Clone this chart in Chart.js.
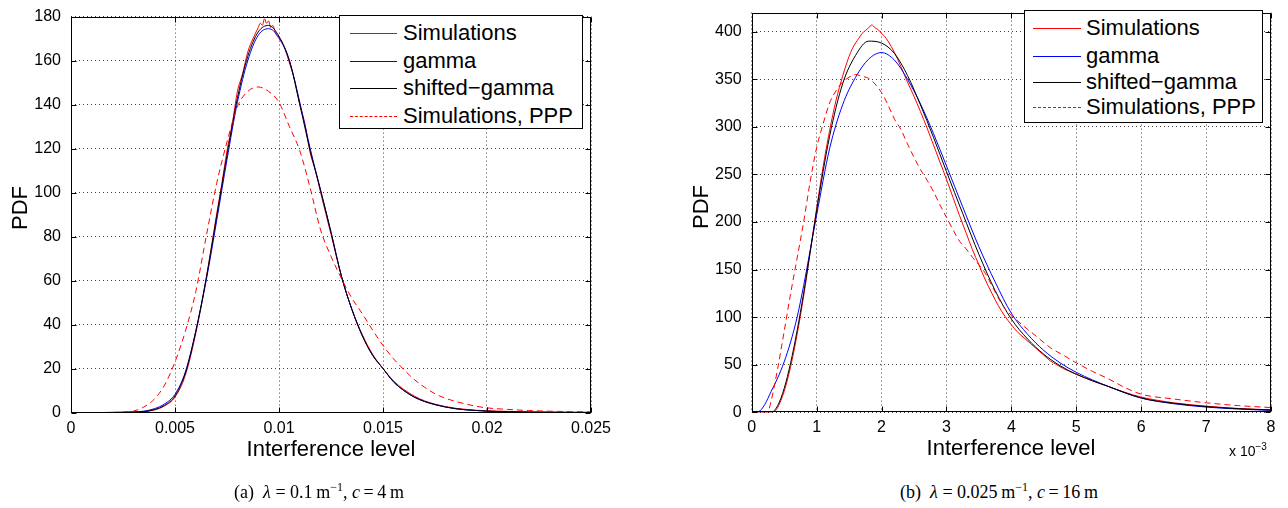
<!DOCTYPE html>
<html>
<head>
<meta charset="utf-8">
<script src="https://cdn.jsdelivr.net/npm/chart.js@4.4.1/dist/chart.umd.min.js"></script>
<style>
  html, body { margin: 0; padding: 0; background: #fff; }
  body { width: 1288px; height: 508px; position: relative; overflow: hidden;
         font-family: "Liberation Sans", Arial, sans-serif; color: #000; }
  .cv { position: absolute; }
  .ylab { position: absolute; font-size: 22px; white-space: nowrap;
          transform: translate(-50%, -50%) rotate(-90deg); }
  .xlab { position: absolute; font-size: 22px; white-space: nowrap; transform: translate(-50%, -50%); }
  .cap { position: absolute; font-family: "Liberation Serif", "Times New Roman", serif; font-size: 18px;
         white-space: nowrap; transform: translate(-50%, -50%); }
  .cap i { font-style: italic; }
  .cap sup { font-size: 12px; vertical-align: 7px; line-height: 0; }
  .exp { position: absolute; font-size: 14px; white-space: nowrap; }
  .exp sup { font-size: 10px; vertical-align: 6px; line-height: 0; }
  .legend { position: absolute; border: 1px solid #000; background: #fff; box-sizing: border-box; }
  .legend .row { position: absolute; height: 24px; line-height: 24px; font-size: 22px; white-space: nowrap; }
  .legend .smp { position: absolute; height: 0; }
</style>
</head>
<body>

<div class="cv" style="left:0; top:-3px;"><canvas id="chartA" width="620" height="443"></canvas></div>
<div class="cv" style="left:680px; top:-7px;"><canvas id="chartB" width="608" height="447"></canvas></div>

<div class="ylab" style="left:20px; top:208px;">PDF</div>
<div class="xlab" style="left:331px; top:449px;">Interference level</div>
<div class="cap" style="left:319px; top:492px;">(a)&nbsp; <i>λ</i> = 0.1&thinsp;m<sup>−1</sup>, <i>c</i>&thinsp;=&thinsp;4&thinsp;m</div>

<div class="ylab" style="left:701px; top:207px;">PDF</div>
<div class="xlab" style="left:1011px; top:448px;">Interference level</div>
<div class="exp" style="left:1229px; top:443px;">x 10<sup>−3</sup></div>
<div class="cap" style="left:999px; top:492px;">(b)&nbsp; <i>λ</i> = 0.025&thinsp;m<sup>−1</sup>, <i>c</i>&thinsp;=&thinsp;16&thinsp;m</div>

<div id="legendA" class="legend" style="left:339px; top:15px; width:244px; height:114px;"></div>
<div id="legendB" class="legend" style="left:1024px; top:10px; width:239px; height:113px;"></div>

<script>
// ---- (a) lambda = 0.1, c = 4 ----
const aXTicks = ['0', '0.005', '0.01', '0.015', '0.02', '0.025'];
const aX = [0.002, 0.0025, 0.003, 0.0035, 0.004, 0.0045, 0.005, 0.0055, 0.006, 0.0065,
            0.007, 0.0075, 0.008, 0.0085, 0.009, 0.0095, 0.01, 0.0105, 0.011, 0.0115,
            0.012, 0.0125, 0.013, 0.0135, 0.014, 0.0145, 0.015, 0.0155, 0.016, 0.0165,
            0.017, 0.0175, 0.018, 0.0185, 0.019, 0.0195, 0.02, 0.021, 0.022, 0.023, 0.024, 0.025];
const aGamma = [0, 0.08, 0.25, 0.6, 1.7, 3.9, 8.3, 18.5, 37, 60,
                87, 115, 141, 160, 171.5, 174.5, 170.5, 160, 141, 120,
                101, 82, 62, 47, 35, 26, 20, 14, 10, 7,
                5, 3.6, 2.5, 1.7, 1.2, 0.9, 0.6, 0.3, 0.15, 0.08, 0.04, 0.02];
const aShifted = [0, 0.05, 0.15, 0.4, 1.3, 3.3, 7.5, 18, 37, 61,
                  89, 117, 143, 162, 173, 176, 171, 160, 140, 119,
                  101, 82, 62, 47, 35, 26, 20, 14, 10, 7,
                  5, 3.6, 2.5, 1.7, 1.2, 0.9, 0.6, 0.3, 0.15, 0.08, 0.04, 0.02];
const aPpp = [0, 0.2, 0.6, 2.5, 6, 12.5, 23, 37, 55, 80,
              104, 123, 139, 146, 148, 146, 141, 130, 119, 102,
              83, 71, 61, 52, 45, 37.5, 30.5, 24.5, 19.5, 15,
              11.5, 8.5, 6.5, 5, 3.8, 2.8, 2.1, 1.4, 0.9, 0.6, 0.4, 0.3];
const aSimX = [0.0015, 0.002, 0.0025, 0.003, 0.0035, 0.004, 0.0045, 0.005, 0.0055, 0.006,
               0.0065, 0.007, 0.00725, 0.0075, 0.00775, 0.008, 0.00825, 0.0085, 0.00875, 0.009,
               0.0091, 0.0092, 0.0093, 0.0094, 0.0095, 0.0096, 0.0097, 0.00985, 0.01, 0.01025,
               0.0105, 0.01075, 0.011, 0.01125, 0.0115, 0.01175, 0.012, 0.0125, 0.013, 0.0135,
               0.014, 0.0145, 0.015, 0.0155, 0.016, 0.0165, 0.017, 0.0175, 0.018, 0.0185,
               0.019, 0.0195, 0.02, 0.021, 0.022, 0.023, 0.024, 0.025];
const aSimY = [0, 0.1, 0.1, 0.2, 0.4, 1.1, 3, 7, 17, 36,
               61, 90, 104, 119, 131, 146, 154, 164, 170, 175,
               177, 176, 179, 177, 178, 175, 176, 172, 170, 166,
               159, 151, 140, 131, 118, 110, 100, 81, 62, 47,
               35.5, 26.5, 20, 14.5, 10.5, 7.5, 5.3, 3.8, 2.7, 1.9,
               1.4, 1.0, 0.8, 0.5, 0.3, 0.2, 0.1, 0.05];

// ---- (b) lambda = 0.025, c = 16  (x in units of 1e-3) ----
const bXTicks = ['0', '1', '2', '3', '4', '5', '6', '7', '8'];
const bX = [0, 0.1, 0.2, 0.3, 0.4, 0.5, 0.6, 0.7, 0.8, 0.9,
            1.0, 1.2, 1.4, 1.6, 1.8, 2.0, 2.2, 2.4, 2.6, 2.8,
            3.0, 3.25, 3.5, 3.75, 4.0, 4.25, 4.5, 4.75, 5.0, 5.5,
            6.0, 6.5, 7.0, 7.5, 8.0];
const bGamma = [0, 0.5, 8, 22, 36, 53, 74, 100, 133, 170,
                207, 277, 323, 352, 371, 378, 370, 350, 324, 293,
                259, 216, 174, 137, 104, 82, 65, 52, 42, 27,
                15, 9, 5.5, 3.4, 2];
const bShifted = [0, 0, 0, 0, 7, 25, 52, 86, 125, 168,
                  212, 290, 345, 375, 390, 388, 377, 354, 323, 289,
                  253, 209, 166, 128, 98, 77, 61, 49, 40, 27,
                  15, 9.5, 6, 3.8, 2.4];
const bSimX = [0, 0.2, 0.3, 0.35, 0.4, 0.5, 0.6, 0.7, 0.8, 0.9,
               1.0, 1.1, 1.2, 1.3, 1.4, 1.45, 1.5, 1.55, 1.6, 1.65,
               1.7, 1.75, 1.8, 1.85, 1.9, 1.95, 2.0, 2.05, 2.1, 2.2,
               2.3, 2.4, 2.5, 2.6, 2.7, 2.8, 2.9, 3.0, 3.1, 3.2,
               3.3, 3.4, 3.5, 3.6, 3.7, 3.8, 3.9, 4.0, 4.1, 4.2,
               4.3, 4.4, 4.5, 4.6, 4.7, 4.8, 5.0, 5.25, 5.5, 5.75,
               6.0, 6.5, 7.0, 7.5, 8.0];
const bSimY = [0, 0, 0, 1, 5, 22, 48, 82, 122, 168,
               214, 258, 296, 328, 353, 364, 374, 382, 388, 393,
               398, 401, 404, 407, 404, 402, 398, 395, 390, 378,
               363, 347, 332, 316, 299, 281, 263, 245, 226, 207,
               189, 171, 155, 139, 125, 112, 101, 92, 84, 78,
               72, 66, 60, 54, 50, 46, 40, 33, 27, 21,
               16, 10, 6.5, 4, 2.6];
const bPppX = [0, 0.2, 0.25, 0.3, 0.4, 0.5, 0.6, 0.7, 0.8, 0.9,
               1.0, 1.1, 1.2, 1.3, 1.4, 1.5, 1.6, 1.7, 1.8, 1.9,
               2.0, 2.1, 2.2, 2.3, 2.4, 2.5, 2.6, 2.7, 2.8, 2.9,
               3.0, 3.1, 3.2, 3.3, 3.4, 3.5, 3.6, 3.7, 3.8, 3.9,
               4.0, 4.2, 4.4, 4.6, 4.8, 5.0, 5.25, 5.5, 5.75, 6.0,
               6.5, 7.0, 7.5, 8.0];
const bPppY = [0, 0, 1, 12, 46, 85, 125, 162, 200, 242,
               278, 303, 325, 338, 347, 352, 355, 353, 351, 345,
               336, 323, 308, 297, 282, 268, 255, 244, 232, 218,
               205, 192, 180, 172, 163, 155, 146, 133, 120, 109,
               102, 90, 79, 68, 60, 52, 43, 35, 26, 19,
               14, 10, 7, 5];

const pts = (xs, ys) => xs.map((x, i) => ({ x, y: ys[i] }));

Chart.defaults.font.family = '"Liberation Sans", Arial, sans-serif';
Chart.defaults.font.size = 16;
Chart.defaults.color = '#000';

// MATLAB style: closed box, ticks pointing inwards
const boxPlugin = {
  id: 'matlabBox',
  afterDatasetsDraw(chart) {
    const { ctx, chartArea: a, scales: { x, y } } = chart;
    const L = Math.round(a.left) + 0.5, R = Math.round(a.right) - 0.5;
    const T = Math.round(a.top) + 0.5, B = Math.round(a.bottom) - 0.5;
    ctx.save();
    ctx.setLineDash([]);
    ctx.strokeStyle = '#000';
    ctx.lineWidth = 1;
    ctx.strokeRect(L, T, R - L, B - T);
    ctx.beginPath();
    x.ticks.forEach(t => {
      const px = Math.round(x.getPixelForValue(t.value)) + 0.5;
      ctx.moveTo(px, B); ctx.lineTo(px, B - 5);
      ctx.moveTo(px, T); ctx.lineTo(px, T + 5);
    });
    y.ticks.forEach(t => {
      const py = Math.round(y.getPixelForValue(t.value)) + 0.5;
      ctx.moveTo(L, py); ctx.lineTo(L + 5, py);
      ctx.moveTo(R, py); ctx.lineTo(R - 5, py);
    });
    ctx.stroke();
    ctx.restore();
  }
};

function line(label, data, color, dash) {
  return {
    label, data, borderColor: color, backgroundColor: color,
    borderWidth: 1, borderDash: dash || [], pointRadius: 0,
    cubicInterpolationMode: 'monotone', fill: false
  };
}

function makeChart(id, o) {
  // first dataset is drawn on top in Chart.js, so feed them in reverse plotting order
  return new Chart(document.getElementById(id), {
    type: 'line',
    data: { datasets: o.series.slice().reverse() },
    options: {
      responsive: false, animation: false,
      layout: { padding: o.pad },
      plugins: { legend: { display: false }, tooltip: { enabled: false } },
      scales: {
        x: {
          type: 'linear', min: o.xMin, max: o.xMax,
          afterFit: s => { s.height = o.xH; },
          grid: { color: 'rgba(0,0,0,0.75)', lineWidth: 1, drawTicks: false },
          border: { display: false, dash: [1, 3] },
          ticks: { stepSize: o.xStep, padding: 6, autoSkip: false, maxRotation: 0,
                   callback: (v, i) => o.xTicks[i] }
        },
        y: {
          min: 0, max: o.yMax,
          afterFit: s => { s.width = o.yW; },
          grid: { color: 'rgba(0,0,0,0.75)', lineWidth: 1, drawTicks: false },
          border: { display: false, dash: [1, 3] },
          ticks: { stepSize: o.yStep, padding: 10, includeBounds: false }
        }
      }
    },
    plugins: [boxPlugin]
  });
}

function makeLegend(id, chart, rows, smpL, smpW, textL) {
  const box = document.getElementById(id);
  const ds = chart.data.datasets.slice().reverse();
  box.innerHTML = ds.map((d, i) => {
    const style = d.borderDash.length ? 'dashed' : 'solid';
    return `
      <div class="smp" style="left:${smpL}px; top:${rows[i]}px; width:${smpW}px; border-top:1px ${style} ${d.borderColor};"></div>
      <div class="row" style="left:${textL}px; top:${rows[i] - 12}px;">${d.label}</div>`;
  }).join('');
}

const chartA = makeChart('chartA', {
  series: [
    line('Simulations', pts(aSimX, aSimY), '#ff0000'),
    line('gamma', pts(aX, aGamma), '#0000ff'),
    line('shifted\u2212gamma', pts(aX, aShifted), '#000000'),
    line('Simulations, PPP', pts(aX, aPpp), '#ff0000', [6, 4])
  ],
  pad: { top: 10, right: 29, left: 0, bottom: 0 },
  xMin: 0, xMax: 0.025, xStep: 0.005, xTicks: aXTicks, xH: 27.5,
  yMax: 180, yStep: 20, yW: 71
});

const chartB = makeChart('chartB', {
  series: [
    line('Simulations', pts(bSimX, bSimY), '#ff0000'),
    line('gamma', pts(bX, bGamma), '#0000ff'),
    line('shifted\u2212gamma', pts(bX, bShifted), '#000000'),
    line('Simulations, PPP', pts(bPppX, bPppY), '#ff0000', [6, 4])
  ],
  pad: { top: 10, right: 17, left: 0, bottom: 0 },
  xMin: 0, xMax: 8, xStep: 1, xTicks: bXTicks, xH: 27.7,
  yMax: 420, yStep: 50, yW: 71.7
});

makeLegend('legendA', chartA, [17, 45, 72, 100], 10, 47, 63);
makeLegend('legendB', chartB, [17, 45, 71, 96], 8, 48, 61);
</script>
</body>
</html>
